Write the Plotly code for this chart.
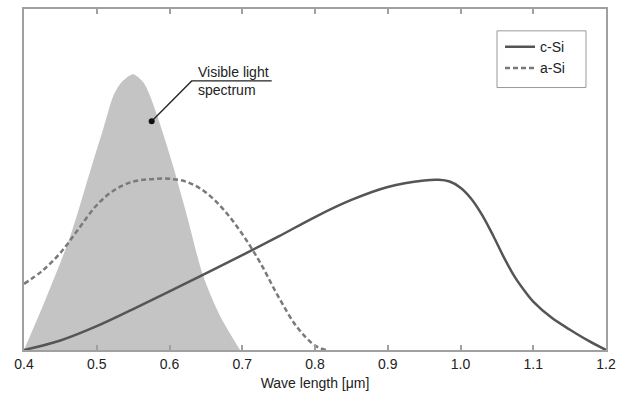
import plotly.graph_objects as go

# Visible light spectrum (relative intensity)
vis_x = [0.40, 0.43, 0.463, 0.493, 0.509, 0.523, 0.534, 0.550, 0.564, 0.573, 0.589,
         0.605, 0.624, 0.646, 0.669, 0.697]
vis_y = [0.0, 0.15, 0.33, 0.539, 0.649, 0.746, 0.785, 0.809, 0.785, 0.746, 0.649,
         0.539, 0.394, 0.219, 0.102, 0.0]

# c-Si spectral response
csi_x = [0.40, 0.45, 0.50, 0.55, 0.60, 0.65, 0.70, 0.75, 0.80, 0.85, 0.90, 0.95,
         0.97, 0.985, 1.00, 1.015, 1.03, 1.045, 1.06, 1.075, 1.09, 1.10, 1.125,
         1.15, 1.175, 1.20]
csi_y = [0.0, 0.028, 0.07, 0.12, 0.172, 0.225, 0.278, 0.333, 0.39, 0.44, 0.478, 0.497,
         0.499, 0.494, 0.476, 0.443, 0.395, 0.335, 0.27, 0.213, 0.168, 0.142, 0.095,
         0.06, 0.028, 0.0]

# a-Si spectral response
asi_x = [0.40, 0.425, 0.45, 0.475, 0.50, 0.525, 0.55, 0.575, 0.60, 0.625, 0.65,
         0.675, 0.70, 0.725, 0.75, 0.775, 0.80, 0.815]
asi_y = [0.194, 0.232, 0.285, 0.355, 0.425, 0.47, 0.494, 0.501, 0.502, 0.492, 0.462,
         0.41, 0.34, 0.255, 0.155, 0.068, 0.013, 0.0]

tick_vals = [0.4, 0.5, 0.6, 0.7, 0.8, 0.9, 1.0, 1.1, 1.2]
tick_text = ["0.4", "0.5", "0.6", "0.7", "0.8", "0.9", "1.0", "1.1", "1.2"]

FONT = "Liberation Sans, Arial, sans-serif"
FRAME = "#a0a0a0"
TXT = "#222222"

fig = go.Figure()
fig.add_trace(go.Scatter(x=vis_x, y=vis_y, mode="lines", fill="tozeroy",
                         fillcolor="#c4c4c4",
                         line=dict(width=0, color="#c4c4c4", shape="spline", smoothing=0.8),
                         showlegend=False, hoverinfo="skip"))
fig.add_trace(go.Scatter(x=csi_x, y=csi_y, mode="lines", name="c-Si",
                         line=dict(color="#555555", width=2.5, shape="spline", smoothing=1)))
fig.add_trace(go.Scatter(x=asi_x, y=asi_y, mode="lines", name="a-Si",
                         line=dict(color="#7a7a7a", width=2.5, dash="5px,3px",
                                   shape="spline", smoothing=1)))

# annotation pointer
fig.add_trace(go.Scatter(x=[0.5755, 0.6305, 0.7405], y=[0.671, 0.789, 0.789], mode="lines",
                         line=dict(color=TXT, width=1.3), showlegend=False, hoverinfo="skip"))
fig.add_trace(go.Scatter(x=[0.5755], y=[0.671], mode="markers",
                         marker=dict(color="#111111", size=6), showlegend=False, hoverinfo="skip"))

fig.add_annotation(x=0.637, y=0.845, xref="x", yref="y", text="Visible light<br>spectrum",
                   showarrow=False, xanchor="left", yanchor="top", align="left",
                   font=dict(family=FONT, size=14, color=TXT))

# legend frame
fig.add_shape(type="rect", xref="paper", yref="paper", x0=0.8127, x1=0.9656,
              y0=0.7697, y1=0.9359, line=dict(color="#999999", width=1),
              fillcolor="white", layer="below")

fig.update_layout(
    width=635, height=400,
    margin=dict(l=24, r=29, t=7, b=50),
    paper_bgcolor="white", plot_bgcolor="white",
    font=dict(family=FONT, size=14, color=TXT),
    legend=dict(x=0.8179, y=0.935, xanchor="left", yanchor="top",
                borderwidth=0, itemwidth=30,
                font=dict(family=FONT, size=14, color=TXT),
                bgcolor="rgba(0,0,0,0)"),
    xaxis=dict(range=[0.4, 1.2], tickvals=tick_vals, ticktext=tick_text,
               ticks="inside", ticklen=5, tickcolor=FRAME, tickwidth=1.5,
               showline=True, linecolor=FRAME, linewidth=1.5, mirror="ticks",
               showgrid=False, zeroline=False,
               title=dict(text="Wave length [μm]", standoff=8,
                          font=dict(family=FONT, size=14, color=TXT))),
    yaxis=dict(range=[0, 1], showticklabels=False, ticks="",
               showline=True, linecolor=FRAME, linewidth=1.5, mirror=True,
               showgrid=False, zeroline=False),
)

fig.write_html("out.html")
